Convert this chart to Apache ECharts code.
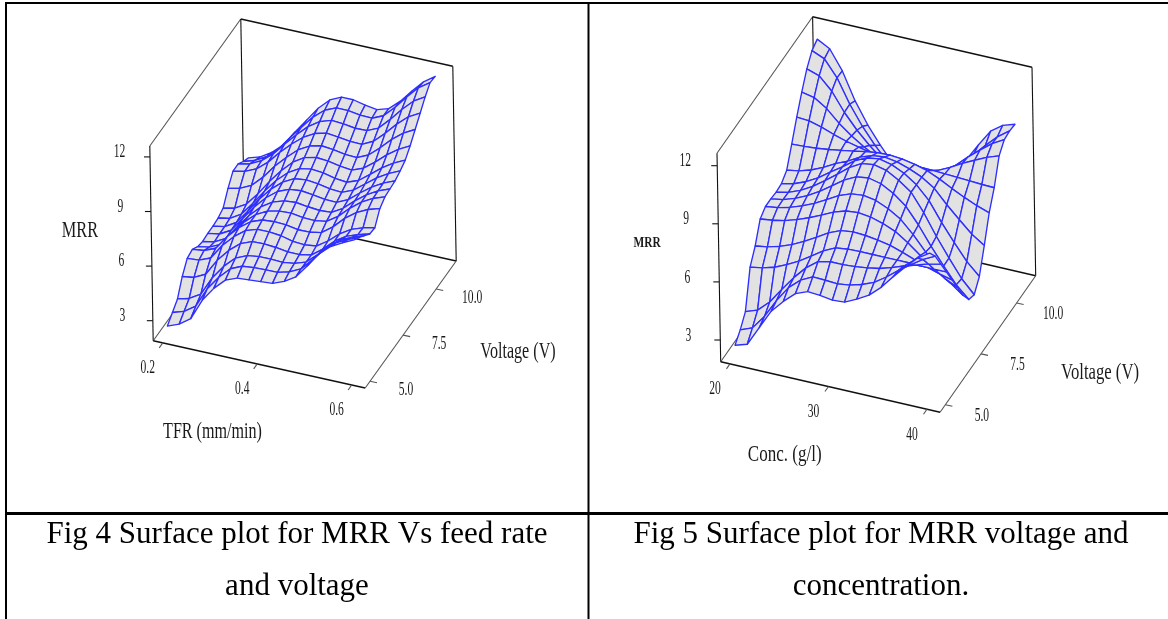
<!DOCTYPE html>
<html><head><meta charset="utf-8">
<style>html,body{margin:0;padding:0;background:#fff}#c{width:1168px;height:619px}</style>
<script src="https://cdn.jsdelivr.net/npm/echarts@6/dist/echarts.min.js"></script>
</head><body><div id="c"></div>
<script>
// ---------- data ----------
const tfrGrid = [0.2,0.225,0.25,0.275,0.3,0.325,0.35,0.375,0.4,0.425,0.45,0.475,0.5,0.525,0.55,0.575,0.6];
const voltageGrid4 = [5,5.39,5.78,6.16,6.55,6.94,7.33,7.71,8.1,8.49,8.88,9.26,9.65,10.04,10.43,10.81,11.2];
const mrrFig4 = [
[2.45,2.7,3.15,4.3,5.1,5.7,5.95,6.0,6.05,6.1,6.35,6.75,7.5,8.3,8.85,9.2,9.5],
[2.8,3.01,3.44,4.54,5.32,5.93,6.21,6.28,6.3,6.31,6.48,6.79,7.43,8.16,8.65,8.98,9.25],
[3.15,3.32,3.7,4.75,5.53,6.12,6.4,6.49,6.5,6.46,6.55,6.77,7.32,7.96,8.42,8.71,8.95],
[4.0,4.09,4.41,5.32,6.01,6.53,6.78,6.8,6.75,6.65,6.65,6.77,7.24,7.82,8.23,8.47,8.65],
[4.6,4.65,4.91,5.74,6.37,6.85,7.06,7.07,7.0,6.84,6.79,6.87,7.29,7.83,8.22,8.45,8.6],
[4.7,4.78,5.05,5.84,6.47,6.94,7.18,7.23,7.2,7.08,7.09,7.21,7.67,8.28,8.74,9.06,9.25],
[4.45,4.57,4.87,5.69,6.38,6.94,7.27,7.42,7.45,7.35,7.33,7.43,7.85,8.44,8.92,9.27,9.5],
[4.35,4.47,4.81,5.61,6.36,6.97,7.38,7.59,7.65,7.56,7.5,7.54,7.91,8.46,8.94,9.3,9.55],
[4.4,4.51,4.86,5.65,6.43,7.08,7.57,7.83,7.9,7.82,7.71,7.69,7.99,8.5,8.97,9.33,9.6],
[4.4,4.52,4.89,5.66,6.47,7.16,7.69,8.02,8.1,8.03,7.9,7.85,8.12,8.6,9.08,9.46,9.75],
[4.45,4.58,4.96,5.7,6.51,7.24,7.81,8.18,8.3,8.23,8.08,8.01,8.25,8.73,9.23,9.64,9.95],
[4.6,4.75,5.12,5.84,6.66,7.39,8.0,8.4,8.55,8.5,8.37,8.29,8.54,9.02,9.56,10.01,10.35],
[5.3,5.44,5.75,6.35,7.09,7.72,8.28,8.64,8.8,8.73,8.62,8.58,8.87,9.41,10.02,10.51,10.85],
[5.85,5.98,6.26,6.78,7.45,8.05,8.57,8.93,9.1,9.02,8.93,8.91,9.23,9.81,10.46,11.01,11.35],
[5.85,6.0,6.32,6.83,7.53,8.18,8.77,9.19,9.4,9.36,9.26,9.27,9.56,10.18,10.87,11.47,11.85],
[5.6,5.8,6.15,6.71,7.48,8.21,8.91,9.43,9.7,9.7,9.6,9.57,9.85,10.46,11.17,11.82,12.25],
[5.4,5.6,6.0,6.55,7.4,8.2,9.0,9.6,9.9,9.9,9.75,9.65,9.85,10.4,11.1,11.75,12.2]
];
const concGrid = [20,21.25,22.5,23.75,25,26.25,27.5,28.75,30,31.25,32.5,33.75,35,36.25,37.5,38.75,40];
const voltageGrid5 = [5,5.375,5.75,6.125,6.5,6.875,7.25,7.625,8,8.375,8.75,9.125,9.5,9.875,10.25,10.625,11];
const mrrFig5 = [
[2.45,2.65,3.65,4.65,5.3,5.85,6.1,6.05,5.95,6.0,6.3,6.65,7.2,7.9,8.55,9.15,9.55],
[2.85,3.1,3.84,4.8,5.62,6.15,6.47,6.44,6.4,6.48,6.66,6.92,7.34,7.83,8.27,8.69,9.0],
[3.4,3.62,4.19,4.98,5.74,6.39,6.86,7.0,7.0,7.04,7.12,7.24,7.43,7.66,7.86,8.06,8.2],
[5.3,5.41,5.59,5.87,6.2,6.6,7.02,7.32,7.4,7.42,7.42,7.42,7.42,7.42,7.41,7.4,7.4],
[6.0,6.1,6.27,6.51,6.82,7.18,7.56,7.82,7.9,7.86,7.77,7.64,7.43,7.19,6.96,6.76,6.6],
[7.0,7.08,7.21,7.41,7.65,7.93,8.23,8.44,8.5,8.42,8.23,7.96,7.53,7.02,6.56,6.12,5.8],
[7.25,7.34,7.5,7.72,8.0,8.34,8.69,8.93,9.0,8.88,8.6,8.2,7.56,6.8,6.12,5.48,5.0],
[7.25,7.36,7.57,7.86,8.22,8.65,9.1,9.41,9.5,9.35,8.99,8.48,7.66,6.7,5.83,5.01,4.4],
[7.2,7.34,7.59,7.94,8.38,8.85,9.35,9.7,9.8,9.65,9.28,8.81,7.9,6.82,5.85,4.93,4.25],
[7.25,7.39,7.64,7.99,8.43,8.85,9.3,9.6,9.7,9.55,9.25,8.8,8.13,7.14,6.26,5.42,4.8],
[7.55,7.66,7.85,8.13,8.47,8.75,9.1,9.33,9.4,9.3,9.08,8.8,8.37,7.67,7.04,6.44,6.0],
[8.5,8.53,8.58,8.66,8.76,8.87,8.99,9.08,9.1,9.05,8.92,8.74,8.45,8.11,7.8,7.52,7.3],
[9.5,9.45,9.28,9.04,8.84,8.68,8.53,8.43,8.4,8.39,8.38,8.36,8.33,8.29,8.26,8.22,8.2],
[10.4,10.26,9.84,9.22,8.72,8.3,7.94,7.68,7.6,7.66,7.79,7.97,8.27,8.62,8.93,9.23,9.45],
[11.2,10.99,10.34,9.39,8.62,7.98,7.42,7.03,6.9,6.99,7.2,7.5,7.98,8.55,9.06,9.54,9.9],
[11.75,11.47,10.64,9.42,8.42,7.59,6.87,6.37,6.2,6.31,6.58,6.95,7.55,8.26,8.9,9.5,9.95],
[11.95,11.6,10.6,9.2,8.1,7.2,6.4,5.9,5.7,5.75,6.05,6.7,7.5,8.4,9.25,9.7,9.9]
];
const mrrTicks = [3,6,9,12];
const tfrTicks = [0.2,0.4,0.6];
const concTicks = [20,30,40];
const voltageTicks = [5,7.5,10];
const captions = [["Fig 4 Surface plot for MRR Vs feed rate","and voltage"],["Fig 5 Surface plot for MRR voltage and","concentration."]];

// ---------- layout ----------
const SERIF = '"Liberation Serif","Times New Roman",serif';
const panels = [
 {grid:{left:0,top:0,width:588,height:513}, xr:[0,588],
  A:[153.2,340.7], ex:[212,47.3], ey:[91,-127], ez:[-3.4,-194.7],
  uR:[0.1798,0.6287], vR:[4.635,11.513], zR:[1.9,12.6],
  us:tfrGrid, vs:voltageGrid4, m:mrrFig4, uT:tfrTicks, uDec:1,
  zOff:[-30.5,-4.5], uOff:[-15,25.5], vOff:[36,9],
  titles:[{t:'MRR',x:80,y:231,f:22.7,s:.72},{t:'TFR (mm/min)',x:212.5,y:432,f:22.7,s:.71},{t:'Voltage (V)',x:518,y:352,f:22.7,s:.71}]},
 {grid:{left:588,top:0,width:580,height:513}, xr:[588,1168],
  A:[720.7,361.7], ex:[219.4,50.6], ey:[95.6,-136.6], ez:[-3.7,-208.4],
  uR:[19.06,41.33], vR:[4.63,11.34], zR:[1.88,12.64],
  us:concGrid, vs:voltageGrid5, m:mrrFig5, uT:concTicks, uDec:0,
  zOff:[-32,-4], uOff:[-15,26], vOff:[36.5,11.5],
  titles:[{t:'MRR',x:647,y:243,f:15,s:.76,b:true},{t:'Conc. (g/l)',x:784.7,y:455,f:22.7,s:.75},{t:'Voltage (V)',x:1100,y:373,f:22.7,s:.735}]}
];
function frac(r,v){return (v-r[0])/(r[1]-r[0]);}
function scene(p,a,b,c){
  return [p.A[0]+a*p.ex[0]+b*p.ey[0]+c*p.ez[0], p.A[1]+a*p.ex[1]+b*p.ey[1]+c*p.ez[1]];
}
function line(api,p1,p2,color,w){
  const a=api.coord(p1),b=api.coord(p2);
  return {type:'line',shape:{x1:a[0],y1:a[1],x2:b[0],y2:b[1]},style:{stroke:color,lineWidth:w}};
}
function label(text,x,y,f,sx,bold){
  return {type:'text',x:x,y:y,scaleX:sx,style:{text:text,x:0,y:0,align:'center',verticalAlign:'middle',fill:'#1a1a1a',
    font:(bold?'bold ':'')+f+'px '+SERIF}};
}
function frameItem(p){
  return function(params,api){
    if(params.dataIndex!==0) return;
    const c=[]; const K='#111',G='#555',T=1.5,S=1.1;
    const P=(a,b,h)=>scene(p,a,b,h);
    c.push(line(api,P(0,0,1),P(0,0,0),K,S));
    c.push(line(api,P(0,0,1),P(0,1,1),G,S));
    c.push(line(api,P(0,1,1),P(1,1,1),K,T));
    c.push(line(api,P(1,1,1),P(1,1,0),K,S));
    c.push(line(api,P(0,1,1),P(0,1,0),K,S));
    c.push(line(api,P(0,1,0),P(1,1,0),K,T));
    c.push(line(api,P(0,0,0),P(0,1,0),G,S));
    c.push(line(api,P(0,0,0),P(1,0,0),K,T));
    c.push(line(api,P(1,0,0),P(1,1,0),G,S));
    mrrTicks.forEach(z=>{
      const a=P(0,0,frac(p.zR,z));
      c.push(line(api,a,[a[0]-6,a[1]],K,S));
      c.push(label(String(z),a[0]+p.zOff[0],a[1]+p.zOff[1],17.8,.65));
    });
    p.uT.forEach(u=>{
      const a=P(frac(p.uR,u),0,0);
      c.push(line(api,a,[a[0]-3.5,a[1]+5],G,S));
      c.push(label(u.toFixed(p.uDec),a[0]+p.uOff[0],a[1]+p.uOff[1],17.8,.65));
    });
    voltageTicks.forEach(v=>{
      const a=P(1,frac(p.vR,v),0);
      c.push(line(api,a,[a[0]+7,a[1]+1.5],G,S));
      c.push(label(v.toFixed(1),a[0]+p.vOff[0],a[1]+p.vOff[1],17.8,.65));
    });
    p.titles.forEach(t=>c.push(label(t.t,t.x,t.y,t.f,t.s,t.b)));
    return {type:'group',children:c};
  };
}
function surfaceItem(p){
  return function(params,api){
    const j=api.value(0), i=api.value(1);      // j along first factor, i along voltage
    const corner=(jj,ii)=>api.coord(scene(p,frac(p.uR,p.us[jj]),frac(p.vR,p.vs[ii]),frac(p.zR,p.m[ii][jj])));
    return {type:'polygon',shape:{points:[corner(j,i),corner(j+1,i),corner(j+1,i+1),corner(j,i+1)]},
      style:{fill:'#e2e2e2',stroke:'#2e2eff',lineWidth:1.35,lineJoin:'round'}};
  };
}
function cellsOf(p){
  const out=[];
  for(let i=p.vs.length-2;i>=0;i--) for(let j=0;j<p.us.length-1;j++) out.push([j,i]);
  return out;
}
const series=[];
panels.forEach((p,k)=>{
  series.push({type:'custom',name:'frame'+k,xAxisIndex:k,yAxisIndex:k,silent:true,renderItem:frameItem(p),data:[[0,0]],z:1});
  series.push({type:'custom',name:'surface'+k,xAxisIndex:k,yAxisIndex:k,silent:true,renderItem:surfaceItem(p),data:cellsOf(p),z:2});
});
const graphic=[];
const rule=(x1,y1,x2,y2,w)=>graphic.push({type:'line',shape:{x1,y1,x2,y2},style:{stroke:'#000',lineWidth:w}});
rule(5,3,1168,3,2); rule(6,3,6,619,2); rule(588.5,3,588.5,619,2); rule(5,513.5,1168,513.5,3);
const capX=[297,881], capY=[534.5,587];
captions.forEach((pair,k)=>pair.forEach((t,n)=>graphic.push({type:'text',x:capX[k],y:capY[n],
  style:{text:t,x:0,y:0,align:'center',verticalAlign:'middle',fill:'#000',font:'31px '+SERIF}})));
const chart=echarts.init(document.getElementById('c'));
chart.setOption({
  animation:false,
  grid:panels.map(p=>p.grid),
  xAxis:panels.map((p,k)=>({type:'value',gridIndex:k,min:p.xr[0],max:p.xr[1],show:false})),
  yAxis:panels.map((p,k)=>({type:'value',gridIndex:k,min:0,max:513,inverse:true,show:false})),
  graphic:graphic,
  series:series
});
</script></body></html>
